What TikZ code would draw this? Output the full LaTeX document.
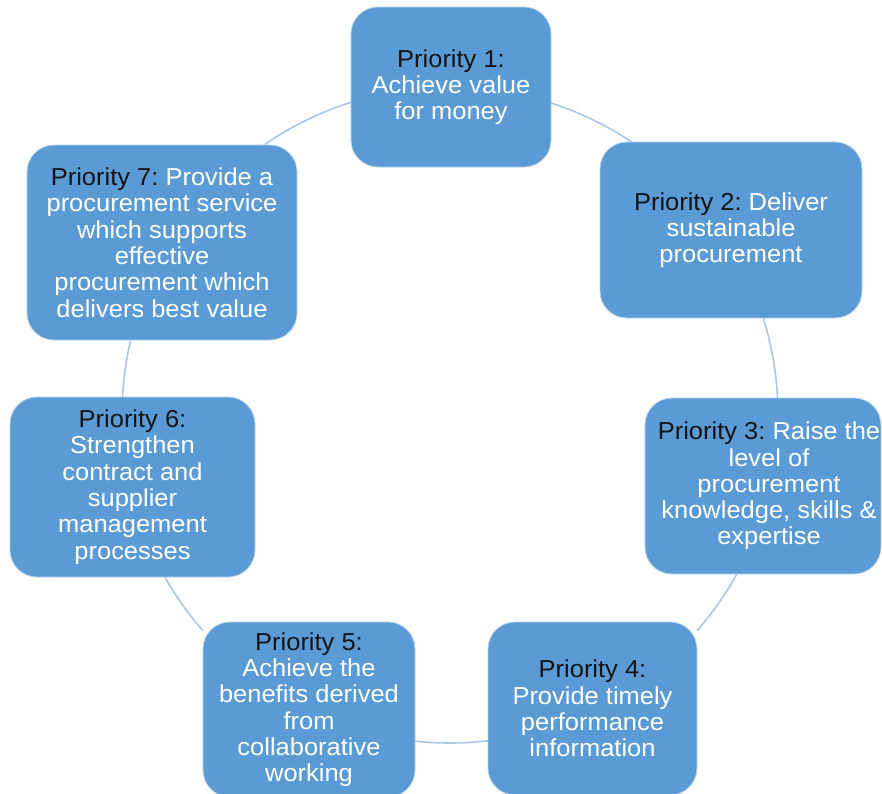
\documentclass[tikz,border=0pt]{standalone}
\usepackage{fontspec}
\setmainfont{Liberation Sans}[FakeStretch=1.04]
\usetikzlibrary{calc}
\frenchspacing
\definecolor{boxblue}{HTML}{5B9BD5}
\definecolor{arcblue}{HTML}{A9C6E6}
\definecolor{priocol}{HTML}{141414}
\newcommand{\priolabel}[1]{\textcolor{priocol}{Priority #1:}}
\tikzset{
  pbox/.style={rectangle, rounded corners=27pt, fill=boxblue, draw=white!55!boxblue,
    line width=0.8pt, inner sep=0pt, text=white, align=center,
    font=\fontsize{24.5}{26.3}\selectfont},
  ptext/.style={inner sep=0pt, text=white, align=center,
    font=\fontsize{24.5}{26.3}\selectfont},
  conn/.style={draw=arcblue, line width=1.6pt},
}
\begin{document}
\begin{tikzpicture}[x=1pt,y=-1pt]
\useasboundingbox (0,0) rectangle (882,793);
\clip (0,0) rectangle (882,793);
\fill[white] (0,0) rectangle (882,793);
\coordinate (c) at (450,415);
% connectors (arcs of the cycle)
\draw[conn] ($(c)+(-72.07:328)$) arc[start angle=-72.07, end angle=-56.35, radius=328];
\draw[conn] ($(c)+(-17.2:328)$) arc[start angle=-17.2, end angle=-2.97, radius=328];
\draw[conn] ($(c)+(29.0:328)$) arc[start angle=29.0, end angle=41.14, radius=328];
\draw[conn] ($(c)+(83.35:328)$) arc[start angle=83.35, end angle=96.13, radius=328];
\draw[conn] ($(c)+(138.86:328)$) arc[start angle=138.86, end angle=150.4, radius=328];
\draw[conn] ($(c)+(183.15:328)$) arc[start angle=183.15, end angle=193.2, radius=328];
\draw[conn] ($(c)+(235.4:328)$) arc[start angle=235.4, end angle=252.43, radius=328];
% boxes
\node[pbox, minimum width=200pt, minimum height=160pt] (p1) at (451,87)
  {\priolabel{1}\\Achieve value\\for money};
\node[pbox, minimum width=262pt, minimum height=176pt] (p2) at (731,230)
  {\priolabel{2} Deliver\\sustainable\\procurement};
\node[pbox, minimum width=236pt, minimum height=176pt] (p3) at (763,486) {};
\node[ptext] (t3) at ($(p3.center)+(6,0)$)
  {\priolabel{3} Raise the\\level of\\procurement\\knowledge, skills \&\\expertise};
\node[pbox, minimum width=209pt, minimum height=173pt] (p4) at (592.5,708.5)
  {\priolabel{4}\\Provide timely\\performance\\information};
\node[pbox, minimum width=212pt, minimum height=175pt] (p5) at (309,709.5)
  {\priolabel{5}\\Achieve the\\benefits derived\\from\\collaborative\\working};
\node[pbox, minimum width=245pt, minimum height=180pt] (p6) at (132.5,487)
  {\priolabel{6}\\Strengthen\\contract and\\supplier\\management\\processes};
\node[pbox, minimum width=270pt, minimum height=195pt] (p7) at (162,242.5)
  {\priolabel{7} Provide a\\procurement service\\which supports\\effective\\procurement which\\delivers best value};
\end{tikzpicture}
\end{document}
